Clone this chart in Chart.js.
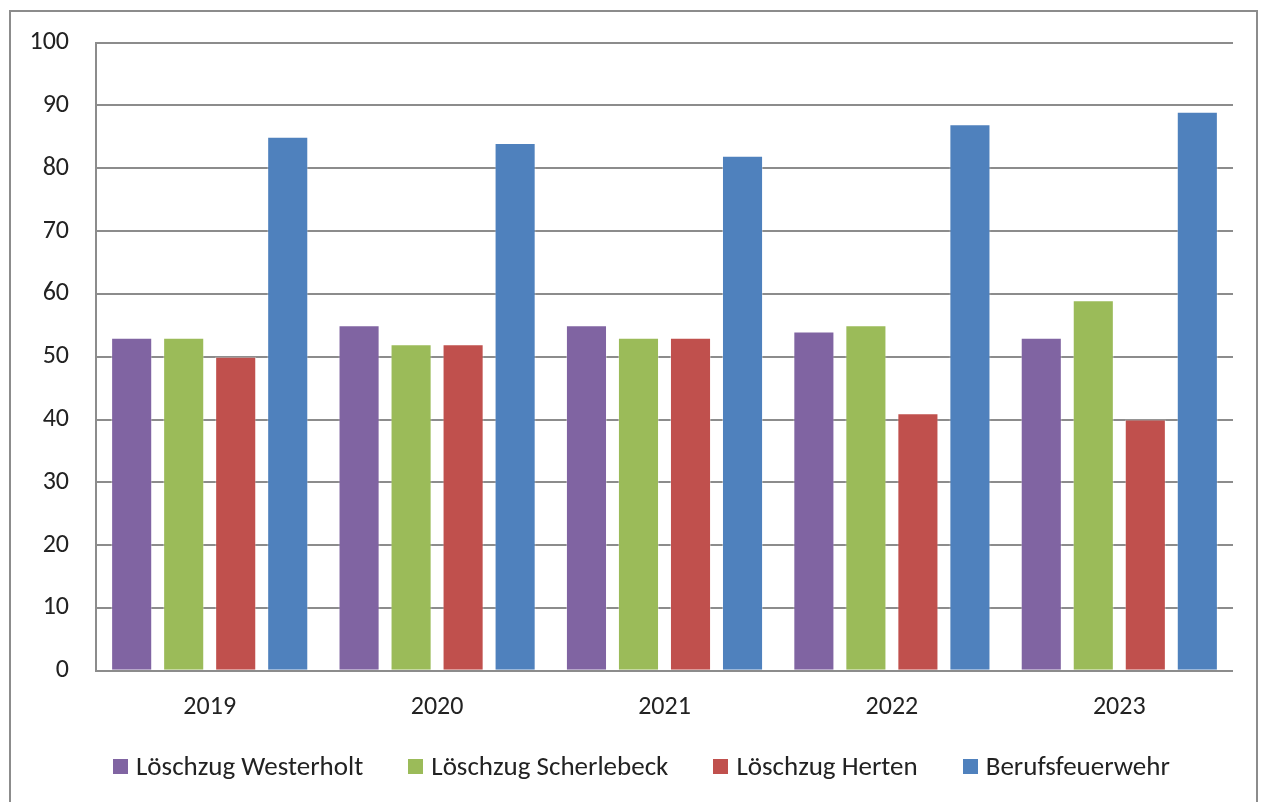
<!DOCTYPE html>
<html lang="de">
<head>
  <meta charset="UTF-8" />
  <title>Einsätze</title>
  <script src="https://cdn.jsdelivr.net/npm/chart.js"></script>
  <style>
    body { margin: 0; background: #fff; overflow: hidden; font-family: Carlito, Lato, "Liberation Sans", sans-serif; }
    .rahmen { position: absolute; left: 9px; top: 10px; width: 1249px; height: 800px; border: 2px solid #8c8c8c; box-sizing: border-box; }
    .box { position: absolute; left: 0; top: 0; width: 1266px; height: 802px; }
    #legenda { position: absolute; left: 113px; top: 751px; display: flex; gap: 45px; margin: 0; padding: 0; list-style: none; }
    #legenda li { display: flex; align-items: center; font-size: 27px; line-height: 30px; color: #222; white-space: nowrap; }
    #legenda span { display: inline-block; width: 15px; height: 15px; margin-right: 8px; }
  </style>
</head>
<body>
  <div class="rahmen"></div>
  <div class="box"><canvas id="grafico"></canvas></div>
  <ul id="legenda"></ul>

<script>
  const jahre = ["2019", "2020", "2021", "2022", "2023"];
  const westerholt = [53, 55, 55, 54, 53];
  const scherlebeck = [53, 52, 53, 55, 59];
  const herten = [50, 52, 53, 41, 40];
  const berufsfeuerwehr = [85, 84, 82, 87, 89];
  const yTicks = [0, 10, 20, 30, 40, 50, 60, 70, 80, 90, 100];

  const fonte = "Carlito, Lato, 'Liberation Sans', sans-serif";

  function serie(nome, valores, cor) {
    return {
      label: nome,
      data: valores,
      backgroundColor: cor,
      borderColor: "rgba(255,255,255,0.35)",
      borderWidth: 1,
      barPercentage: 0.79,
      categoryPercentage: 0.915
    };
  }

  const dados = {
    labels: jahre,
    datasets: [
      serie("Löschzug Westerholt", westerholt, "#8064A2"),
      serie("Löschzug Scherlebeck", scherlebeck, "#9BBB59"),
      serie("Löschzug Herten", herten, "#C0504D"),
      serie("Berufsfeuerwehr", berufsfeuerwehr, "#4F81BD")
    ]
  };

  // legenda em html, montada a partir dos itens do próprio Chart.js
  const legendaHtml = {
    id: "legendaHtml",
    afterUpdate(chart) {
      const ul = document.getElementById("legenda");
      ul.innerHTML = "";
      chart.options.plugins.legend.labels.generateLabels(chart).forEach(item => {
        const li = document.createElement("li");
        const caixa = document.createElement("span");
        caixa.style.background = item.fillStyle;
        li.appendChild(caixa);
        li.appendChild(document.createTextNode(item.text));
        ul.appendChild(li);
      });
    }
  };

  new Chart(document.getElementById("grafico").getContext("2d"), {
    type: "bar",
    data: dados,
    plugins: [legendaHtml],
    options: {
      maintainAspectRatio: false,
      animation: false,
      layout: { padding: { left: 0, right: 33, top: 37, bottom: 58 } },
      plugins: {
        tooltip: { enabled: false },
        legend: { display: false }
      },
      scales: {
        x: {
          grid: { display: false, drawTicks: false },
          border: { display: false },
          ticks: { color: "#222", padding: 21, font: { family: fonte, size: 26 } }
        },
        y: {
          min: 0,
          max: 100,
          afterBuildTicks: s => { s.ticks = yTicks.map(v => ({ value: v })); },
          afterFit: s => { s.width = 96; },
          grid: { color: "#8c8c8c", lineWidth: 2, drawTicks: false },
          border: { display: true, color: "#8c8c8c", width: 2 },
          ticks: { color: "#222", padding: 27, font: { family: fonte, size: 26 } }
        }
      }
    }
  });
</script>
</body>
</html>
